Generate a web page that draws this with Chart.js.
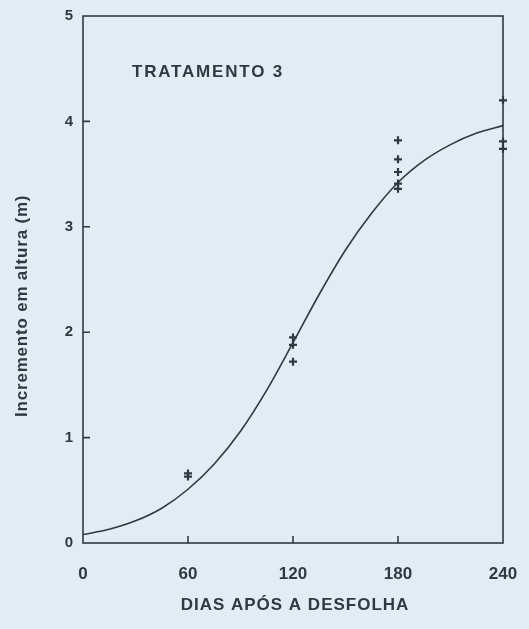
<!DOCTYPE html>
<html>
<head>
<meta charset="utf-8">
<script src="https://cdn.jsdelivr.net/npm/chart.js@4/dist/chart.umd.min.js"></script>
<style>
  html, body { margin: 0; padding: 0; background: #e4ecf3; }
  #wrap { width: 529px; height: 629px; }
</style>
</head>
<body>
<div id="wrap"><canvas id="c" width="529" height="629"></canvas></div>
<script>
// Fitted curve
const curveDays   = [0, 15, 30, 45, 60, 75, 90, 105, 120, 135, 150, 165, 180, 195, 210, 225, 240];
const curveValues = [0.08, 0.13, 0.21, 0.33, 0.51, 0.75, 1.06, 1.45, 1.90, 2.36, 2.78, 3.13, 3.42, 3.63, 3.78, 3.89, 3.96];
// Observations (crosses)
const obsDays   = [60, 60, 120, 120, 120, 180, 180, 180, 180, 180, 240, 240, 240];
const obsValues = [0.66, 0.63, 1.95, 1.88, 1.72, 3.82, 3.64, 3.52, 3.41, 3.36, 4.20, 3.81, 3.74];
// Tick labels
const xTicks = [0, 60, 120, 180, 240];
const yTicks = [0, 1, 2, 3, 4, 5];
const panelLabel = 'TRATAMENTO 3';
const xTitle = 'DIAS APÓS A DESFOLHA';
const yTitle = 'Incremento em altura (m)';

const INK = '#2c3b43';
const FONT = "'Liberation Sans', Arial, sans-serif";

function spacedText(ctx, txt, x, y, spacing) {
  if ('letterSpacing' in ctx) ctx.letterSpacing = spacing + 'px';
  ctx.fillText(txt, x, y);
}

const framePlugin = {
  id: 'frame',
  beforeDraw(chart) {
    const ctx = chart.ctx;
    ctx.save();
    ctx.fillStyle = '#e4ecf3';
    ctx.fillRect(0, 0, chart.width, chart.height);
    ctx.restore();
  },
  afterDatasetsDraw(chart) {
    const {ctx, chartArea: a, scales: {x, y}} = chart;
    ctx.save();
    ctx.strokeStyle = INK;
    ctx.lineWidth = 1.6;
    ctx.strokeRect(a.left, a.top, a.right - a.left, a.bottom - a.top);
    // inward tick marks
    ctx.beginPath();
    xTicks.slice(1, -1).forEach(v => {
      const px = x.getPixelForValue(v);
      ctx.moveTo(px, a.bottom); ctx.lineTo(px, a.bottom - 7);
    });
    yTicks.slice(1, -1).forEach(v => {
      const py = y.getPixelForValue(v);
      ctx.moveTo(a.left, py); ctx.lineTo(a.left + 7, py);
    });
    ctx.stroke();
    ctx.fillStyle = INK;
    ctx.textBaseline = 'middle';
    // panel label
    ctx.font = "bold 17px " + FONT;
    ctx.textAlign = 'left';
    spacedText(ctx, panelLabel, x.getPixelForValue(28), y.getPixelForValue(4.47), 1.8);
    // x title
    ctx.textAlign = 'center';
    ctx.font = "bold 17px " + FONT;
    spacedText(ctx, xTitle, (a.left + a.right) / 2 + 2, a.bottom + 62, 1);
    // y title
    ctx.save();
    ctx.translate(22, y.getPixelForValue(2.25));
    ctx.rotate(-Math.PI / 2);
    ctx.font = "bold 17px " + FONT;
    spacedText(ctx, yTitle, 0, 0, 0.8);
    ctx.restore();
    ctx.restore();
  }
};

new Chart(document.getElementById('c'), {
  type: 'scatter',
  data: {
    datasets: [
      {
        type: 'line',
        data: curveDays.map((d, i) => ({x: d, y: curveValues[i]})),
        borderColor: INK,
        borderWidth: 1.6,
        pointRadius: 0,
        fill: false,
        cubicInterpolationMode: 'monotone'
      },
      {
        type: 'scatter',
        data: obsDays.map((d, i) => ({x: d, y: obsValues[i]})),
        pointStyle: 'cross',
        pointRadius: 4,
        borderColor: INK,
        borderWidth: 2.2,
        backgroundColor: INK,
        clip: false
      }
    ]
  },
  options: {
    responsive: false,
    animation: false,
    events: [],
    layout: { padding: { left: 0, right: 26, top: 16, bottom: 0 } },
    plugins: { legend: { display: false }, tooltip: { enabled: false } },
    scales: {
      x: {
        type: 'linear',
        min: 0, max: 240,
        afterBuildTicks: s => { s.ticks = xTicks.map(v => ({value: v})); },
        afterFit: s => { s.height = 86; s.paddingLeft = 0; s.paddingRight = 0; },
        grid: { display: false, drawTicks: false },
        border: { display: false },
        ticks: { color: INK, padding: 21, font: { family: FONT, size: 17, weight: 'bold' }, maxRotation: 0 },
        title: { display: false }
      },
      y: {
        type: 'linear',
        min: 0, max: 5,
        afterBuildTicks: s => { s.ticks = yTicks.map(v => ({value: v})); },
        afterFit: s => { s.width = 83; s.paddingTop = 0; s.paddingBottom = 0; },
        grid: { display: false, drawTicks: false },
        border: { display: false },
        ticks: { color: INK, padding: 10, font: { family: FONT, size: 15, weight: 'bold' } },
        title: { display: false }
      }
    }
  },
  plugins: [framePlugin]
});
</script>
</body>
</html>
